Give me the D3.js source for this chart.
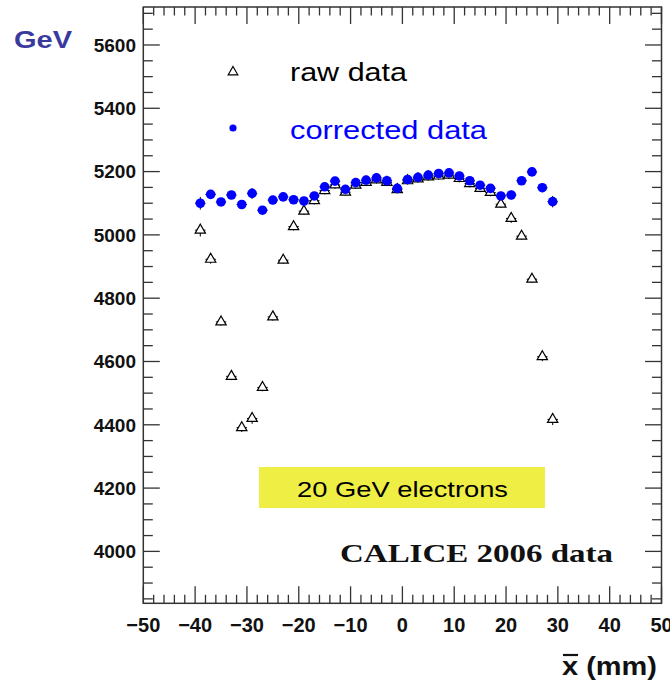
<!DOCTYPE html>
<html><head><meta charset="utf-8">
<script src="https://cdn.jsdelivr.net/npm/d3@7"></script>
<style>body{margin:0;background:#fff} svg{display:block}</style>
</head><body><svg id="c" width="670" height="683"></svg>
<script>
// ---- data ----
const xPos = [-39,-37,-35,-33,-31,-29,-27,-25,-23,-21,-19,-17,-15,-13,-11,-9,-7,-5,-3,-1,1,3,5,7,9,11,13,15,17,19,21,23,25,27,29];
const rawData = [5015,4923,4725,4553,4391,4420,4518,4741,4920,5026,5075,5108,5140,5158,5135,5157,5166,5174,5166,5143,5171,5177,5183,5186,5189,5178,5162,5147,5134,5097,5052,4996,4860,4615,4417];
const correctedData = [5100,5128,5104,5126,5096,5131,5078,5110,5120,5111,5107,5123,5152,5170,5144,5165,5173,5180,5171,5147,5175,5182,5189,5194,5196,5186,5171,5157,5147,5123,5126,5171,5199,5149,5105];
const yErr = [20,14,12,12,14,17,12,12,12,12,12,12,12,12,12,12,12,12,12,12,12,12,12,12,12,12,12,12,12,12,14,12,12,14,18];
const xHalfWidth = 1;
const xTicks = [-50,-40,-30,-20,-10,0,10,20,30,40,50];
const yTicks = [4000,4200,4400,4600,4800,5000,5200,5400,5600];
const xDomain = [-50, 50];
const yDomain = [3836, 5720];
const legendLabels = ["raw data", "corrected data"];
const boxLabel = "20 GeV electrons";
const stampLabel = "CALICE 2006 data";

// ---- layout ----
const L = 143.3, R = 661.5, T = 7, B = 603.3;
const svg = d3.select("#c");
const x = d3.scaleLinear().domain(xDomain).range([L, R]);
const y = d3.scaleLinear().domain(yDomain).range([B, T]);
const axisCol = "#333";

// frame
svg.append("rect").attr("x", L).attr("y", T).attr("width", R - L).attr("height", B - T)
  .attr("fill", "none").attr("stroke", axisCol).attr("stroke-width", 1.5);

// ticks (inward on all four sides)
const xMinor = d3.range(-50, 50.001, 2);
const yMinor = d3.range(3850, 5720, 50);
const tg = svg.append("g").attr("stroke", axisCol).attr("stroke-width", 1.3);
xMinor.forEach(v => {
  const major = Math.abs(v % 10) < 1e-9;
  const len = major ? 17 : 8.5;
  tg.append("line").attr("x1", x(v)).attr("x2", x(v)).attr("y1", B).attr("y2", B - len);
  tg.append("line").attr("x1", x(v)).attr("x2", x(v)).attr("y1", T).attr("y2", T + len);
});
yMinor.forEach(v => {
  const major = Math.abs(v % 200) < 1e-9;
  const len = major ? 16.5 : 9.5;
  tg.append("line").attr("x1", L).attr("x2", L + len).attr("y1", y(v)).attr("y2", y(v));
  tg.append("line").attr("x1", R).attr("x2", R - len).attr("y1", y(v)).attr("y2", y(v));
});

// tick labels
svg.append("g").selectAll("text").data(xTicks).join("text")
  .attr("x", d => x(d)).attr("y", 632)
  .attr("text-anchor", "middle")
  .attr("font-family", "Liberation Sans, Arial, sans-serif").attr("font-weight", "bold")
  .attr("font-size", 20).attr("fill", "#111")
  .text(d => d < 0 ? "\u2212" + Math.abs(d) : d);
svg.append("g").selectAll("text").data(yTicks).join("text")
  .attr("x", 136).attr("y", d => y(d)).attr("dy", "0.36em")
  .attr("text-anchor", "end")
  .attr("font-family", "Liberation Sans, Arial, sans-serif").attr("font-weight", "bold")
  .attr("font-size", 19).attr("fill", "#111")
  .text(d => d);

// axis titles
svg.append("text").attr("x", 14).attr("y", 48)
  .attr("font-family", "Liberation Sans, Arial, sans-serif").attr("font-weight", "bold")
  .attr("font-size", 23).attr("fill", "#3a3a9e")
  .attr("textLength", 58).attr("lengthAdjust", "spacingAndGlyphs")
  .text("GeV");
const xt = svg.append("text").attr("x", 562).attr("y", 675)
  .attr("font-family", "Liberation Sans, Arial, sans-serif").attr("font-weight", "bold")
  .attr("font-size", 26).attr("fill", "#111")
  .attr("textLength", 95).attr("lengthAdjust", "spacingAndGlyphs")
  .text("x (mm)");
// overline over the x
svg.append("line").attr("x1", 563).attr("x2", 578).attr("y1", 655).attr("y2", 655)
  .attr("stroke", "#111").attr("stroke-width", 2.2);

const data = xPos.map((v, i) => ({x: v, raw: rawData[i], cor: correctedData[i], e: yErr[i]}));

// raw data: open triangles with error bars
const rawG = svg.append("g");
data.forEach(d => {
  rawG.append("line").attr("x1", x(d.x - xHalfWidth)).attr("x2", x(d.x + xHalfWidth))
    .attr("y1", y(d.raw)).attr("y2", y(d.raw)).attr("stroke", "#000").attr("stroke-width", 1);
  rawG.append("line").attr("x1", x(d.x)).attr("x2", x(d.x))
    .attr("y1", y(d.raw - d.e)).attr("y2", y(d.raw + d.e)).attr("stroke", "#000").attr("stroke-width", 1);
});
const tri = d3.symbol(d3.symbolTriangle, 46);
rawG.selectAll("path").data(data).join("path")
  .attr("d", tri).attr("transform", d => `translate(${x(d.x)},${y(d.raw)})`)
  .attr("fill", "#fff").attr("stroke", "#000").attr("stroke-width", 1.2);

// corrected data: filled blue circles with error bars
const corG = svg.append("g");
data.forEach(d => {
  corG.append("line").attr("x1", x(d.x - xHalfWidth)).attr("x2", x(d.x + xHalfWidth))
    .attr("y1", y(d.cor)).attr("y2", y(d.cor)).attr("stroke", "#000").attr("stroke-width", 1);
  corG.append("line").attr("x1", x(d.x)).attr("x2", x(d.x))
    .attr("y1", y(d.cor - d.e)).attr("y2", y(d.cor + d.e)).attr("stroke", "#000").attr("stroke-width", 1);
});
corG.selectAll("circle").data(data).join("circle")
  .attr("cx", d => x(d.x)).attr("cy", d => y(d.cor)).attr("r", 4.8)
  .attr("fill", "#0000ff");

// legend
svg.append("path").attr("d", d3.symbol(d3.symbolTriangle, 40)())
  .attr("transform", "translate(233,72)").attr("fill", "#fff").attr("stroke", "#000").attr("stroke-width", 1.2);
svg.append("circle").attr("cx", 233).attr("cy", 128).attr("r", 3.6).attr("fill", "#0000ff");
svg.append("text").attr("x", 290).attr("y", 81)
  .attr("font-family", "Liberation Sans, Arial, sans-serif").attr("font-size", 25).attr("fill", "#000")
  .attr("textLength", 117).attr("lengthAdjust", "spacingAndGlyphs")
  .text(legendLabels[0]);
svg.append("text").attr("x", 290).attr("y", 139)
  .attr("font-family", "Liberation Sans, Arial, sans-serif").attr("font-size", 25).attr("fill", "#0000ff")
  .attr("textLength", 197).attr("lengthAdjust", "spacingAndGlyphs")
  .text(legendLabels[1]);

// yellow label box
svg.append("rect").attr("x", 259).attr("y", 467).attr("width", 286).attr("height", 41)
  .attr("fill", "#eeee44");
svg.append("text").attr("x", 297).attr("y", 497)
  .attr("font-family", "Liberation Sans, Arial, sans-serif").attr("font-size", 22).attr("fill", "#000")
  .attr("textLength", 211).attr("lengthAdjust", "spacingAndGlyphs")
  .text(boxLabel);

// stamp
svg.append("text").attr("x", 340).attr("y", 562)
  .attr("font-family", "Liberation Serif, Times New Roman, serif").attr("font-weight", "bold")
  .attr("font-size", 26).attr("fill", "#111")
  .attr("textLength", 273).attr("lengthAdjust", "spacingAndGlyphs")
  .text(stampLabel);
</script></body></html>
